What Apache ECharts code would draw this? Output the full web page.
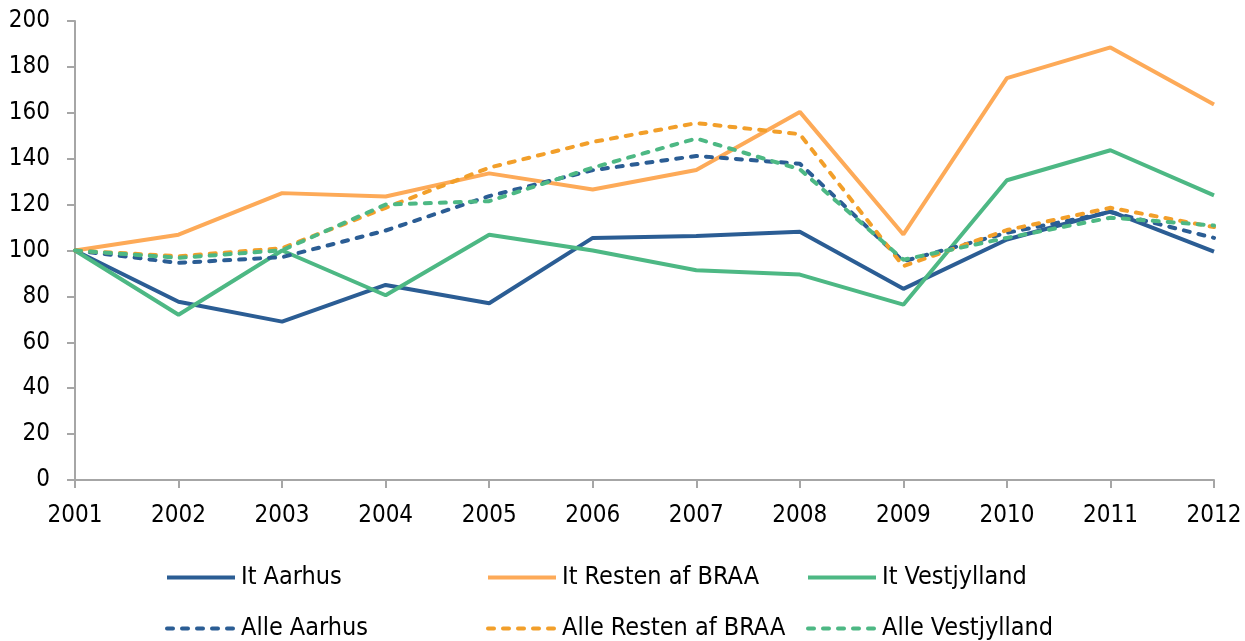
<!DOCTYPE html>
<html>
<head>
<meta charset="utf-8">
<script src="https://cdn.jsdelivr.net/npm/echarts@6/dist/echarts.min.js"></script>
<style>
  html, body { margin: 0; padding: 0; background: #fff; }
  #main { width: 1245px; height: 641px; }
</style>
</head>
<body>
<div id="main"></div>
<script>
var years = ['2001','2002','2003','2004','2005','2006','2007','2008','2009','2010','2011','2012'];

var itAarhus      = [100, 77.7, 69, 85, 77, 105.5, 106.3, 108.2, 83.3, 104.8, 117, 99.5];
var itResten      = [100, 106.9, 125, 123.5, 133.6, 126.6, 135.1, 160.4, 107, 175.1, 188.5, 163.6];
var itVest        = [100, 72, 100, 80.5, 106.9, 100, 91.4, 89.5, 76.4, 130.6, 143.7, 124];
var alleAarhus    = [100, 94.6, 97.1, 108.7, 123.7, 135, 141.2, 137.8, 95.3, 107.7, 116.7, 105.5];
var alleResten    = [100, 97.5, 101, 118.6, 136.1, 147.3, 155.5, 150.7, 93.2, 108.9, 118.6, 110.2];
var alleVest      = [100, 96.8, 100.1, 120, 121.5, 136.1, 148.8, 135.4, 96, 105.5, 114.3, 110.9];

var blue = '#2B5D94';
var lightOrange = '#FDAA58';
var green = '#4DB884';
var orange = '#F29F2A';
var font = 'DejaVu Sans Condensed';

var myChart = echarts.init(document.getElementById('main'));

function line(name, data, color, dashed) {
    return {
        name: name,
        type: 'line',
        data: data,
        symbol: 'none',
        showSymbol: false,
        z: dashed ? 3 : 2,
        lineStyle: { color: color, width: 4, type: dashed ? [6, 9] : 'solid', cap: dashed ? 'round' : 'butt' },
        itemStyle: { color: color }
    };
}

function legendAt(name, left, top) {
    return {
        data: [name],
        left: left,
        top: top,
        itemWidth: 68,
        itemHeight: 4,
        itemGap: 0,
        padding: 0,
        itemStyle: { opacity: 0 },
        lineStyle: { width: 4 },
        textStyle: { fontFamily: font, fontSize: 25, color: '#000', padding: [0, 0, 0, 1] }
    };
}

var option = {
    animation: false,
    grid: { left: 75, right: 31, top: 21, bottom: 161, containLabel: false },
    legend: [
        legendAt('It Aarhus', 165, 565),
        legendAt('It Resten af BRAA', 486, 565),
        legendAt('It Vestjylland', 806, 565),
        legendAt('Alle Aarhus', 165, 616),
        legendAt('Alle Resten af BRAA', 486, 616),
        legendAt('Alle Vestjylland', 806, 616)
    ],
    xAxis: {
        type: 'category',
        data: years,
        boundaryGap: false,
        axisLine: { lineStyle: { color: '#A6A6A6', width: 2 } },
        axisTick: { show: true, length: 8, lineStyle: { color: '#A6A6A6', width: 2 } },
        axisLabel: { color: '#000', fontFamily: font, fontSize: 24, margin: 24 },
        splitLine: { show: false }
    },
    yAxis: {
        type: 'value',
        min: 0,
        max: 200,
        interval: 20,
        axisLine: { show: true, lineStyle: { color: '#A6A6A6', width: 2 } },
        axisTick: { show: true, length: 8, lineStyle: { color: '#A6A6A6', width: 2 } },
        axisLabel: { color: '#000', fontFamily: font, fontSize: 24, margin: 25 },
        splitLine: { show: false }
    },
    series: [
        line('It Aarhus', itAarhus, blue, false),
        line('It Resten af BRAA', itResten, lightOrange, false),
        line('It Vestjylland', itVest, green, false),
        line('Alle Aarhus', alleAarhus, blue, true),
        line('Alle Resten af BRAA', alleResten, orange, true),
        line('Alle Vestjylland', alleVest, green, true)
    ]
};

myChart.setOption(option);
</script>
</body>
</html>
